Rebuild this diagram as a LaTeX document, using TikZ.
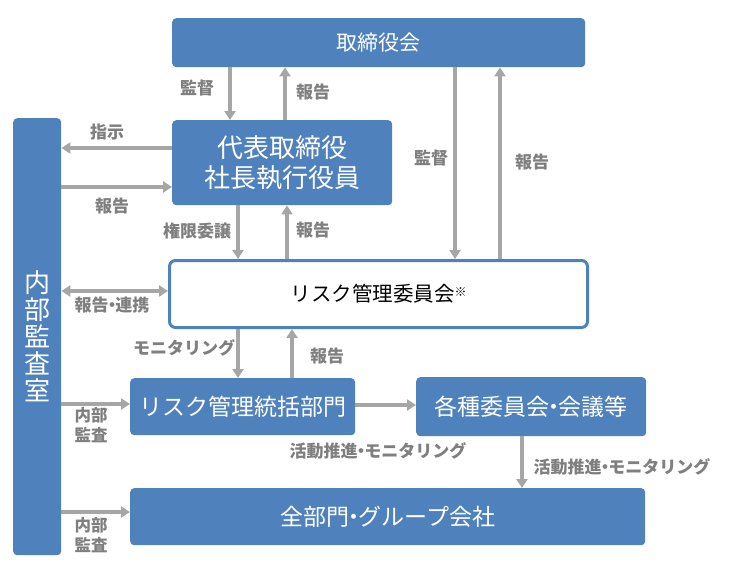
\documentclass[tikz,border=0pt]{standalone}
\usepackage{fontspec}
\setmainfont{Noto Sans CJK JP}
\usetikzlibrary{arrows.meta,positioning}
\definecolor{boxblue}{HTML}{4F81BD}
\definecolor{arrgray}{HTML}{A6A6A6}
\definecolor{lblgray}{HTML}{7F7F7F}
\newcommand\narrowdot{\kern-.3em・\kern-.3em}
\tikzset{
  bluebox/.style={draw=none,fill=boxblue,rounded corners=4pt,text=white,inner sep=0pt,anchor=north west},
  whitebox/.style={draw=boxblue,line width=3pt,fill=white,rounded corners=6pt,text=black,inner sep=0pt,anchor=north west},
  arr/.style={draw=arrgray,line width=3.5pt,-{Triangle[length=9pt,width=11pt]}},
  darr/.style={draw=arrgray,line width=3.5pt,{Triangle[length=9pt,width=11pt]}-{Triangle[length=9pt,width=11pt]}},
  lbl/.style={text=lblgray,font=\bfseries\fontsize{17}{20}\selectfont,inner sep=0pt}
}
\begin{document}
\begin{tikzpicture}[x=1pt,y=-1pt]
\useasboundingbox (0,0) rectangle (729,574);
% boxes
\node[bluebox,minimum width=413pt,minimum height=49pt,font=\fontsize{21}{24}\selectfont] (board) at (172,18) {取締役会};
\node[bluebox,minimum width=220pt,minimum height=85pt,font=\fontsize{26}{30}\selectfont,align=center] (ceo) at (172,120) {代表取締役\\社長執行役員};
\node[whitebox,minimum width=418pt,minimum height=67pt,font=\fontsize{20.5}{24}\selectfont] (rmc) at (168,259) {リスク管理委員会\raisebox{0.5ex}{\fontsize{12}{13}\selectfont ※}};
\node[bluebox,minimum width=48pt,minimum height=437pt,font=\fontsize{26}{27}\selectfont,align=center] (audit) at (13,118) {内\\部\\監\\査\\室};
\node[bluebox,minimum width=225pt,minimum height=57pt,font=\fontsize{23}{27}\selectfont] (rmd) at (130,378) {リスク管理統括部門};
\node[bluebox,minimum width=230pt,minimum height=59pt,font=\fontsize{23}{27}\selectfont] (comm) at (416,377) {各種委員会\narrowdot 会議等};
\node[bluebox,minimum width=515pt,minimum height=57pt,font=\fontsize{23}{27}\selectfont] (all) at (130,488) {全部門\narrowdot グループ会社};
% board <-> ceo
\draw[arr] (230,0 |- board.south) coordinate (a1) -- (a1 |- ceo.north);
\draw[arr] (285,0 |- ceo.north) coordinate (a2) -- (a2 |- board.south);
\node[lbl] (l1) at (197,88) {監督};
\node[lbl] (l2) at (313,92) {報告};
% board <-> rmc
\draw[arr] (455,0 |- board.south) coordinate (a3) -- (a3 |- rmc.north);
\draw[arr] (500,0 |- rmc.north) coordinate (a4) -- (a4 |- board.south);
\node[lbl] (l3) at (431,158) {監督};
\node[lbl] (l4) at (532,162) {報告};
% ceo <-> audit
\draw[arr] (ceo.west |- 0,148) coordinate (a5) -- (a5 -| audit.east);
\draw[arr] (audit.east |- 0,187) coordinate (a6) -- (a6 -| ceo.west);
\node[lbl] (l5) at (107,132) {指示};
\node[lbl] (l6) at (112,206) {報告};
% ceo <-> rmc
\draw[arr] (238,0 |- ceo.south) coordinate (a7) -- (a7 |- rmc.north);
\draw[arr] (287,0 |- rmc.north) coordinate (a8) -- (a8 |- ceo.south);
\node[lbl] (l7) at (197,231) {権限委譲};
\node[lbl] (l8) at (313,230) {報告};
% audit <-> rmc
\draw[darr] (audit.east |- 0,291) coordinate (a9) -- (a9 -| rmc.west);
\node[lbl] (l9) at (112,305) {報告\narrowdot 連携};
% rmc <-> rmd
\draw[arr] (238,0 |- rmc.south) coordinate (a10) -- (a10 |- rmd.north);
\draw[arr] (292,0 |- rmd.north) coordinate (a11) -- (a11 |- rmc.south);
\node[lbl] (l10) at (184,348) {モニタリング};
\node[lbl] (l11) at (327,356) {報告};
% audit -> rmd
\draw[arr] (audit.east |- 0,404) coordinate (a12) -- (a12 -| rmd.west);
\node[lbl,align=center,font=\bfseries\fontsize{16.5}{20}\selectfont] (l12) at (91,425) {内部\\監査};
% rmd -> comm
\draw[arr] (rmd.east |- 0,405) coordinate (a13) -- (a13 -| comm.west);
\node[lbl] (l13) at (378,451) {活動推進\narrowdot モニタリング};
% comm -> all
\draw[arr] (522,0 |- comm.south) coordinate (a14) -- (a14 |- all.north);
\node[lbl] (l14) at (622,467) {活動推進\narrowdot モニタリング};
% audit -> all
\draw[arr] (audit.east |- 0,512) coordinate (a15) -- (a15 -| all.west);
\node[lbl,align=center,font=\bfseries\fontsize{16.5}{20}\selectfont] (l15) at (91,535) {内部\\監査};
\end{tikzpicture}
\end{document}
